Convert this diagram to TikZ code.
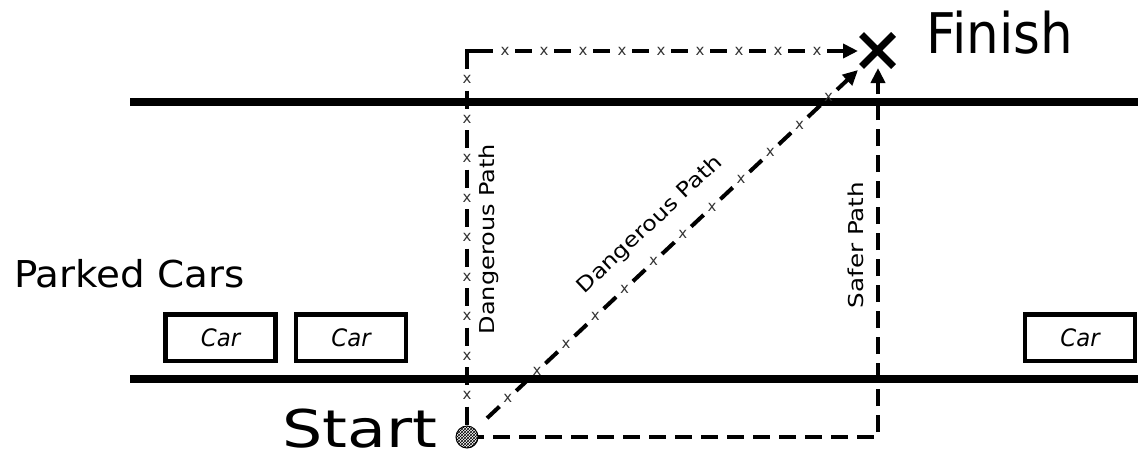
\documentclass[tikz,border=0pt]{standalone}
\usepackage{fontspec}
\setmainfont{DejaVu Sans}
\usepackage{graphicx}
\usetikzlibrary{arrows.meta,decorations.markings,patterns,shapes.misc}
\begin{document}
\begin{tikzpicture}[x=1pt,y=-1pt,
  road/.style={line width=8pt},
  pathline/.style={line width=4pt},
  tip/.style={-{Triangle[length=15pt,width=14pt]}},
  xmk/.style={font=\fontsize{15}{15}\selectfont, inner sep=0pt, text=black!80},
  lbl/.style={font=\fontsize{20.5}{24}\selectfont, inner sep=0pt},
  big/.style={inner sep=0pt},
  carbox/.style={draw, line width=4.5pt, minimum width=110pt, minimum height=46.5pt,
    inner sep=0pt, font=\fontsize{24}{26}\selectfont\itshape},
  xmarks/.style n args={3}{postaction={decorate}, decoration={markings,
    mark=between positions #1 and #2 step #3 with {\node[xmk]{x};}}}
]
\fill[white] (0,0) rectangle (1138,459);
\useasboundingbox (0,0) rectangle (1138,459);

% roads
\draw[road] (130,102) -- (1138,102);
\draw[road] (130,379) -- (1138,379);

% key points
\coordinate (S) at (467,437);
\coordinate (C) at (467,51);
\coordinate (Ftop) at (858,51);
\coordinate (Fdiag) at (858,70);
\coordinate (B) at (878,437);
\coordinate (Fup) at (878,68);

% safer path
\draw[pathline, dash pattern=on 17pt off 9pt, tip] (S) -- (B) -- (Fup);

% dangerous path: up then across
\draw[pathline, dash pattern=on 18pt off 21.5pt, xmarks={28.75pt}{350pt}{39.5pt}] (C) -- (S);
\draw[pathline, line join=miter] ([xshift=10pt]C) -- (C) -- ([yshift=-10pt]C);
\draw[pathline, dash pattern=on 17pt off 22pt, dash phase=30pt, tip,
      xmarks={38pt}{356pt}{39pt}] (C) -- (Ftop);

% dangerous path: diagonal
\draw[pathline, dash pattern=on 17pt off 23pt, dash phase=12.5pt, tip,
      xmarks={56pt}{500pt}{40pt}] (S) -- (Fdiag);

% start and finish markers
\node[circle, draw, line width=1pt, minimum size=22pt, inner sep=0pt,
      preaction={fill=white}, pattern=crosshatch] (start) at (S) {};
\node[cross out, draw, line width=7pt, minimum size=25pt, inner sep=0pt] (finish) at (877.5,50.5) {};

% labels
\node[lbl, rotate=90] (dv) at (489,239) {\scalebox{1.17}[1]{Dangerous Path}};
\node[lbl, rotate=43.3] (dd) at (650,225) {\scalebox{1.17}[1]{Dangerous Path}};
\node[lbl, rotate=90] (sp) at (856,245) {\scalebox{1.2}[1]{Safer Path}};

\node[big, font=\fontsize{52}{60}\selectfont] (starttxt) at (359.5,429) {\scalebox{1.22}[1]{Start}};
\node[big, font=\fontsize{56}{64}\selectfont] (finishtxt) at (1000,32.5) {\scalebox{0.92}[1]{Finish}};
\node[big, font=\fontsize{37}{42}\selectfont] (parked) at (129.5,273.5) {\scalebox{1.05}[1]{Parked Cars}};

% cars
\node[carbox] (car1) at (220.5,337.5) {\scalebox{0.95}[1]{Car}};
\node[carbox] (car2) at (351,337.5) {\scalebox{0.95}[1]{Car}};
\node[carbox] (car3) at (1080,337.5) {\scalebox{0.95}[1]{Car}};
\end{tikzpicture}
\end{document}
